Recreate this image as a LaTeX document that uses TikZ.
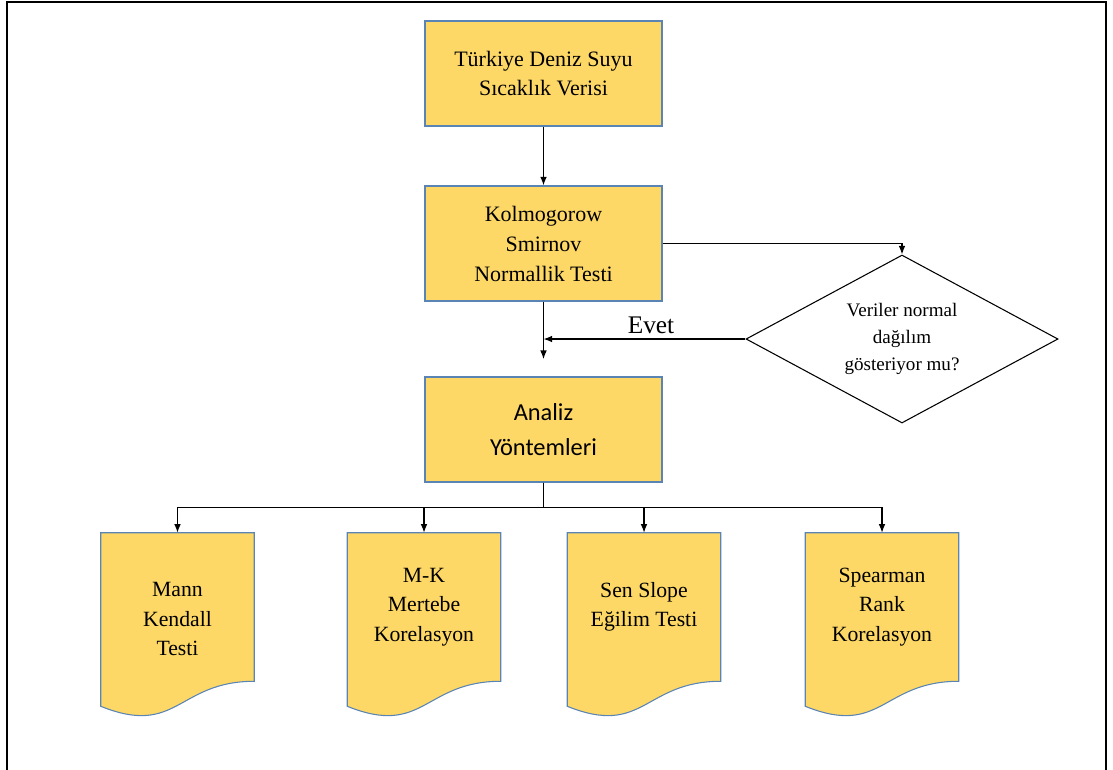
\documentclass[tikz,border=0pt]{standalone}
\usepackage{fontspec}
\setmainfont{Liberation Serif}
\newfontfamily\calibrifont{Carlito}
\usetikzlibrary{shapes.geometric, arrows.meta, calc, backgrounds}

\definecolor{boxfill}{HTML}{FDD866}
\definecolor{boxline}{HTML}{5A84B4}

\tikzset{
	frame/.style = {line width=1.6pt},
	arr/.style = {-{Latex[length=6.5pt,width=5pt]}, line width=0.9pt},
	box/.style = {draw=boxline, fill=boxfill, line width=0.8pt, align=center,
		minimum width=177.75pt, minimum height=78.75pt, inner sep=0pt,
		font=\fontsize{16.5}{21.5}\selectfont},
	docbox/.style = {minimum width=114.75pt, minimum height=111pt, inner sep=0pt,
		align=center, font=\fontsize{16.3}{22}\selectfont},
	docline/.style = {draw=boxline, fill=boxfill, line width=0.8pt},
	dia/.style = {diamond, aspect=1.86, draw, line width=0.8pt, minimum width=234pt,
		minimum height=126pt, inner sep=0pt, align=center,
		font=\fontsize{14.3}{20}\selectfont},
	lbl/.style = {inner sep=0pt, font=\fontsize{19}{22}\selectfont}
}

\newcommand{\docshape}[1]{%
	\filldraw[docline] (#1.north west) -- (#1.north east) -- (#1.south east)
	.. controls (#1.south) and ($(#1.south)+(0,56)$) .. ($(#1.south west)+(0,25)$) -- cycle;}

\begin{document}
\begin{tikzpicture}[x=0.75pt, y=-0.75pt]
			\useasboundingbox (0,0) rectangle (1113,769);
			\draw [frame] (7,790) -- (7,2) -- (1106,2) -- (1106,790);
			
			\node [box] (data) at (543.5,73.5) {Türkiye Deniz Suyu\\Sıcaklık Verisi};
			\node [box, minimum height=86.25pt, font=\fontsize{16.5}{22.5}\selectfont] (ks) at (543.5,243.5)
			{Kolmogorow\\Smirnov\\Normallik Testi};
			\node [dia] (dia) at (902,339) {Veriler normal\\dağılım\\gösteriyor mu?};
			\node [box, font=\calibrifont\fontsize{18.3}{26}\selectfont] (an) at (543.5,429.5)
			{Analiz\\Yöntemleri};
			
			\node [docbox] (mk) at (177.5,607) {\rule{0pt}{29pt}Mann\\Kendall\\Testi};
			\node [docbox] (mkr) at (424,607) {M-K\\Mertebe\\Korelasyon};
			\node [docbox] (sen) at (644,607) {Sen Slope\\Eğilim Testi};
			\node [docbox] (sp) at (882,607) {Spearman\\Rank\\Korelasyon};
			
			\begin{scope}[on background layer]
				\docshape{mk}
				\docshape{mkr}
				\docshape{sen}
				\docshape{sp}
			\end{scope}
			
			\node [lbl, anchor=base] (evet) at (651,333) {Evet};
			
			\draw [arr] (data.south) -- (ks.north);
			\draw [arr] (ks.east) -| (dia.north);
			\draw [arr] (dia.west) -- (dia.west -| ks.south);
			\draw [arr] (ks.south) -- ([yshift=13pt]an.north);
			
			\draw [arr] (an.south) --++ (0,25) -| (mk.north);
			\draw [arr] (an.south) --++ (0,25) -| (mkr.north);
			\draw [arr] (an.south) --++ (0,25) -| (sen.north);
			\draw [arr] (an.south) --++ (0,25) -| (sp.north);
		\end{tikzpicture}
\end{document}
